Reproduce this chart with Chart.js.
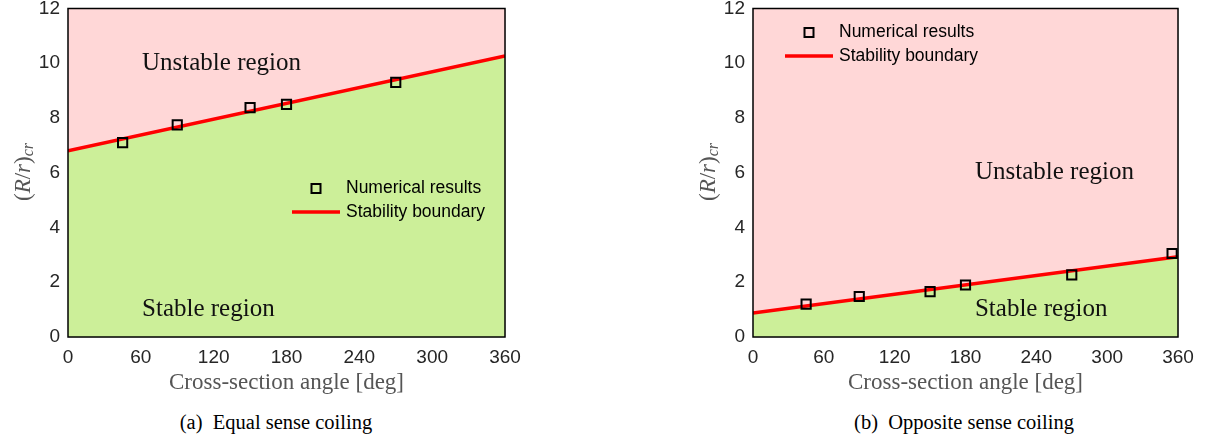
<!DOCTYPE html>
<html>
<head>
<meta charset="utf-8">
<script src="https://cdn.jsdelivr.net/npm/chart.js@4.4.1/dist/chart.umd.min.js"></script>
<style>
body { margin: 0; background: #fff; width: 1217px; height: 440px; position: relative; overflow: hidden; }
.box { position: absolute; top: 0; height: 400px; }
.cap { position: absolute; top: 411px; font-family: "Liberation Serif", serif; font-size: 20.5px; color: #000; transform: translateX(-50%); white-space: nowrap; }
</style>
</head>
<body>
<div class="box" style="left:0;width:540px"><canvas id="chartA"></canvas></div>
<div class="box" style="left:680px;width:537px"><canvas id="chartB"></canvas></div>
<div class="cap" style="left:276px">(a)&nbsp; Equal sense coiling</div>
<div class="cap" style="left:964px">(b)&nbsp; Opposite sense coiling</div>
<script>
// data
const anglesEqual = [45, 90, 150, 180, 270];
const ratioEqual = [7.1, 7.75, 8.38, 8.5, 9.3];
const boundaryAngles = [0, 360];
const boundaryEqual = [6.8, 10.27];

const anglesOpposite = [45, 90, 150, 180, 270, 355];
const ratioOpposite = [1.2, 1.48, 1.66, 1.9, 2.27, 3.05];
const boundaryOpposite = [0.88, 2.93];

const xTicks = [0, 60, 120, 180, 240, 300, 360];
const yTicks = [0, 2, 4, 6, 8, 10, 12];

const PINK = '#ffd7d7';
const GREEN = '#ccef99';
const TICK_FONT = { family: '"Liberation Sans", Arial, sans-serif', size: 19 };

// background, frame, titles, region labels and legend
const decor = {
    id: 'decor',
    beforeDatasetsDraw(chart) {
        const { ctx, chartArea: a } = chart;
        ctx.save();
        ctx.fillStyle = PINK;
        ctx.fillRect(a.left, a.top, a.right - a.left, a.bottom - a.top);
        ctx.restore();
    },
    afterDraw(chart) {
        const { ctx, chartArea: a, scales } = chart;
        const o = chart.options.plugins.decor;
        ctx.save();

        // frame
        ctx.strokeStyle = '#000';
        ctx.lineWidth = 1.5;
        ctx.strokeRect(a.left, a.top, a.right - a.left, a.bottom - a.top);

        // region labels
        ctx.fillStyle = '#111';
        ctx.font = '25px "Liberation Serif", serif';
        ctx.textBaseline = 'middle';
        ctx.textAlign = 'left';
        o.regions.forEach(r => {
            ctx.fillText(r.text, scales.x.getPixelForValue(r.x), scales.y.getPixelForValue(r.y));
        });

        // x title
        ctx.fillStyle = '#555';
        ctx.font = '23px "Liberation Serif", serif';
        ctx.textAlign = 'center';
        ctx.fillText('Cross-section angle [deg]', (a.left + a.right) / 2, a.bottom + 46);

        // y title (R/r)_cr
        const parts = [
            { t: '(', f: '23px "Liberation Serif", serif', dy: 0 },
            { t: 'R', f: 'italic 23px "Liberation Serif", serif', dy: 0 },
            { t: '/', f: '23px "Liberation Serif", serif', dy: 0 },
            { t: 'r', f: 'italic 23px "Liberation Serif", serif', dy: 0 },
            { t: ')', f: '23px "Liberation Serif", serif', dy: 0 },
            { t: 'cr', f: 'italic 16px "Liberation Serif", serif', dy: 5 }
        ];
        let total = 0;
        parts.forEach(p => { ctx.font = p.f; p.w = ctx.measureText(p.t).width; total += p.w; });
        ctx.translate(a.left - 44, 172);
        ctx.rotate(-Math.PI / 2);
        ctx.textAlign = 'left';
        let px = -total / 2;
        parts.forEach(p => { ctx.font = p.f; ctx.fillText(p.t, px, p.dy); px += p.w; });
        ctx.setTransform(1, 0, 0, 1, 0, 0);

        // legend
        const L = a.left + o.legend.x, T = a.top + o.legend.y;
        ctx.strokeStyle = '#000';
        ctx.lineWidth = 2;
        ctx.strokeRect(L + 24 - 4.5, T - 4.5, 9, 9);
        ctx.strokeStyle = '#ff0000';
        ctx.lineWidth = 3.5;
        ctx.beginPath();
        ctx.moveTo(L, T + 23.5);
        ctx.lineTo(L + 48, T + 23.5);
        ctx.stroke();
        ctx.fillStyle = '#000';
        ctx.font = '17.5px "Liberation Sans", Arial, sans-serif';
        ctx.textAlign = 'left';
        ctx.fillText('Numerical results', L + 54, T);
        ctx.fillText('Stability boundary', L + 54, T + 23.5);
        ctx.restore();
    }
};

function makeChart(id, angles, ratios, boundary, yWidth, padRight, regions, legend) {
    return new Chart(document.getElementById(id), {
        type: 'scatter',
        data: {
            datasets: [
                {
                    label: 'Stability boundary',
                    data: boundaryAngles.map((x, i) => ({ x, y: boundary[i] })),
                    showLine: true,
                    borderColor: '#ff0000',
                    borderWidth: 3.5,
                    pointRadius: 0,
                    fill: 'origin',
                    backgroundColor: GREEN,
                    order: 2
                },
                {
                    label: 'Numerical results',
                    data: angles.map((x, i) => ({ x, y: ratios[i] })),
                    pointStyle: 'rect',
                    pointRadius: 6.5,
                    borderColor: '#000',
                    borderWidth: 2,
                    backgroundColor: 'rgba(0,0,0,0)',
                    order: 1
                }
            ]
        },
        options: {
            responsive: true,
            maintainAspectRatio: false,
            animation: false,
            layout: { padding: { left: 0, right: padRight, top: 8, bottom: 0 } },
            plugins: {
                legend: { display: false },
                tooltip: { enabled: false },
                decor: { regions, legend }
            },
            scales: {
                x: {
                    type: 'linear',
                    min: 0, max: 360,
                    z: 1,
                    afterBuildTicks: s => { s.ticks = xTicks.map(v => ({ value: v })); },
                    afterFit: s => { s.height = 63; s.paddingLeft = 0; s.paddingRight = 0; },
                    grid: { color: 'rgba(0,0,0,0.09)', drawTicks: false },
                    border: { display: false },
                    ticks: { font: TICK_FONT, color: '#262626', padding: 9, maxRotation: 0 }
                },
                y: {
                    type: 'linear',
                    min: 0, max: 12,
                    z: 1,
                    afterBuildTicks: s => { s.ticks = yTicks.map(v => ({ value: v })); },
                    afterFit: s => { s.width = yWidth; s.paddingTop = 0; s.paddingBottom = 0; },
                    grid: { color: 'rgba(0,0,0,0.09)', drawTicks: false },
                    border: { display: false },
                    ticks: { font: TICK_FONT, color: '#262626', padding: 8 }
                }
            }
        },
        plugins: [decor]
    });
}

makeChart('chartA', anglesEqual, ratioEqual, boundaryEqual, 68, 35,
    [{ text: 'Unstable region', x: 61, y: 10 }, { text: 'Stable region', x: 61, y: 1 }],
    { x: 224, y: 180 });

makeChart('chartB', anglesOpposite, ratioOpposite, boundaryOpposite, 73, 39,
    [{ text: 'Unstable region', x: 188, y: 6 }, { text: 'Stable region', x: 188, y: 1 }],
    { x: 32, y: 24 });
</script>
</body>
</html>
